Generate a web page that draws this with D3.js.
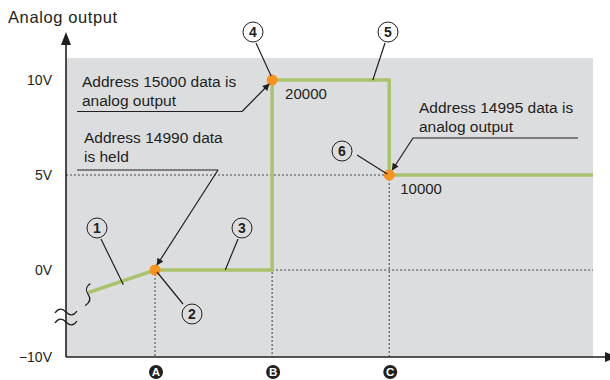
<!DOCTYPE html>
<html>
<head>
<meta charset="utf-8">
<script src="https://cdn.jsdelivr.net/npm/d3@7"></script>
<style>
  html, body { margin: 0; padding: 0; background: #fff; }
  svg { display: block; font-family: "Liberation Sans", Arial, sans-serif; }
</style>
</head>
<body>
<svg id="chart" width="610" height="380"></svg>
<script>
// ---- data ----
const markerLabels = ["A", "B", "C"];
const markerTimes = [0, 1, 2];
const outputTimes = [-0.57, 0, 1, 1, 2, 2, 3.74];
const outputVolts = [-2.6, 0, 0, 10, 10, 5, 5];
const pointTimes = [0, 1, 2];
const pointVolts = [0, 10, 5];
const voltTicks = [-10, 0, 5, 10];
const voltTickLabels = ["\u221210V", "0V", "5V", "10V"];
const valueLabels = ["20000", "10000"];
const calloutNumbers = ["1", "2", "3", "4", "5", "6"];
const noteLines = [
  ["Address 15000 data is", "analog output"],
  ["Address 14990 data", "is held"],
  ["Address 14995 data is", "analog output"]
];
const titleText = "Analog output";

// ---- scales ----
const svg = d3.select("#chart");
const x = d3.scaleLinear().domain([-0.76, 3.74]).range([66, 593]);
const y = d3.scaleLinear().domain([-10, 0, 10]).range([357, 270, 80]);
const yTop = 11.15;

const GREEN = "#a9c26c", ORANGE = "#f7931e", GRAY = "#dcdddf", INK = "#231f20";

// defs: arrowheads
const defs = svg.append("defs");
defs.append("marker").attr("id", "arr").attr("viewBox", "0 0 10 10")
  .attr("refX", 9).attr("refY", 5).attr("markerWidth", 9).attr("markerHeight", 7)
  .attr("markerUnits", "userSpaceOnUse").attr("orient", "auto")
  .append("path").attr("d", "M0,0 L10,5 L0,10 z").attr("fill", INK);

// background plot area
svg.append("rect")
  .attr("x", x(-0.76)).attr("y", y(yTop))
  .attr("width", x(3.74) - x(-0.76)).attr("height", y(-10) - y(yTop))
  .attr("fill", GRAY);

// dotted guides
const dot = { stroke: "#444", "stroke-width": 1, "stroke-dasharray": "2,2" };
function guide(x1, y1, x2, y2) {
  const l = svg.append("line").attr("x1", x1).attr("y1", y1).attr("x2", x2).attr("y2", y2);
  Object.entries(dot).forEach(([k, v]) => l.attr(k, v));
}
guide(x(-0.76), y(5), x(2), y(5));
guide(x(1), y(0), x(3.74), y(0));
markerTimes.forEach((t, i) => guide(x(t), y(pointVolts[i]), x(t), y(-10)));

// output line
const pts = outputTimes.map((t, i) => [x(t), y(outputVolts[i])]);
svg.append("path").attr("d", d3.line()(pts))
  .attr("fill", "none").attr("stroke", GREEN).attr("stroke-width", 3.5)
  .attr("stroke-linejoin", "miter");

// squiggle at start of line
const sx = x(outputTimes[0]), sy = y(outputVolts[0]);
svg.append("path")
  .attr("d", `M${sx+2},${sy-9} C${sx-4},${sy-5} ${sx-2},${sy-1} ${sx},${sy+2} C${sx+2},${sy+5} ${sx+3},${sy+9} ${sx-3},${sy+13}`)
  .attr("fill", "none").attr("stroke", INK).attr("stroke-width", 1.3);

// axes
svg.append("line").attr("x1", x(-0.76)).attr("y1", y(-10)).attr("x2", x(-0.76)).attr("y2", 44)
  .attr("stroke", INK).attr("stroke-width", 1.6);
svg.append("path").attr("d", `M${x(-0.76)},32 L${x(-0.76)+5},45 L${x(-0.76)-5},45 Z`).attr("fill", INK);
svg.append("line").attr("x1", x(-0.76)).attr("y1", y(-10)).attr("x2", 605).attr("y2", y(-10))
  .attr("stroke", INK).attr("stroke-width", 1.6);
svg.append("path").attr("d", `M618,${y(-10)} L605,${y(-10)-5} L605,${y(-10)+5} Z`).attr("fill", INK);

// axis break symbol
[312, 322].forEach(cy => {
  const cx = x(-0.76);
  svg.append("path")
    .attr("d", `M${cx-11},${cy+1} C${cx-7},${cy-5} ${cx-3},${cy-3} ${cx},${cy} C${cx+3},${cy+3} ${cx+7},${cy+5} ${cx+11},${cy-1}`)
    .attr("fill", "none").attr("stroke", INK).attr("stroke-width", 1.3);
});

// y tick labels via axis
const yAxis = d3.axisLeft(y).tickValues(voltTicks).tickSize(0).tickPadding(14)
  .tickFormat((d, i) => voltTickLabels[i]);
const gy = svg.append("g").attr("transform", `translate(${x(-0.76)},0)`).call(yAxis);
gy.select(".domain").remove();
gy.selectAll("text").attr("font-size", 14).attr("fill", INK)
  .attr("font-family", "'Liberation Sans', Arial, sans-serif");

// x markers A B C
markerTimes.forEach((t, i) => {
  const g = svg.append("g").attr("transform", `translate(${x(t)+1},372)`);
  g.append("circle").attr("r", 7).attr("fill", INK);
  g.append("text").text(markerLabels[i]).attr("text-anchor", "middle").attr("dy", 4)
    .attr("font-size", 11.5).attr("font-weight", "bold").attr("fill", "#fff");
});

// title
svg.append("text").text(titleText).attr("x", 8).attr("y", 23)
  .attr("font-size", 16.5).attr("fill", INK).attr("letter-spacing", 0.6);

// orange points
pointTimes.forEach((t, i) => {
  svg.append("circle").attr("cx", x(t)).attr("cy", y(pointVolts[i])).attr("r", 5.5).attr("fill", ORANGE);
});

// value labels
svg.append("text").text(valueLabels[0]).attr("x", x(1) + 13).attr("y", y(10) + 19)
  .attr("font-size", 15).attr("fill", INK);
svg.append("text").text(valueLabels[1]).attr("x", x(2) + 11).attr("y", y(5) + 19)
  .attr("font-size", 15).attr("fill", INK);

// notes with underline + arrow
function note(lines, tx, ty, ux1, ux2, uy, ax1, tipX, tipY) {
  lines.forEach((s, i) => {
    svg.append("text").text(s).attr("x", tx).attr("y", ty + i * 18.5)
      .attr("font-size", 15.5).attr("fill", INK);
  });
  svg.append("line").attr("x1", ux1).attr("y1", uy).attr("x2", ux2).attr("y2", uy)
    .attr("stroke", INK).attr("stroke-width", 1.2);
  svg.append("line").attr("x1", ax1).attr("y1", uy).attr("x2", tipX).attr("y2", tipY)
    .attr("stroke", INK).attr("stroke-width", 1.2).attr("marker-end", "url(#arr)");
}
note(noteLines[0], 82, 87, 77, 242, 111.5, 242, x(1) - 3, y(10) + 4);
note(noteLines[1], 84, 143, 77, 218, 170, 218, x(0) + 2, y(0) - 5);
note(noteLines[2], 419, 113, 413, 578, 138, 413, x(2) + 3, y(5) - 5);

// callout circles with leaders
const callouts = [
  { c: [97, 228], l: [[101, 239], [x(-0.27), y(-1.7)]] },
  { c: [192, 314], l: [[183, 304], [x(0) + 2, y(0) + 2]] },
  { c: [242, 228], l: [[238, 239], [x(0.6), y(0)]] },
  { c: [253, 32], l: [[256, 43], [x(1) - 1, y(10) - 4]] },
  { c: [388, 32], l: [[385, 43], [x(1.86), y(10)]] },
  { c: [342, 151], l: [[357, 155], [x(2) - 2, y(5) - 1]] }
];
callouts.forEach((d, i) => {
  svg.append("line").attr("x1", d.l[0][0]).attr("y1", d.l[0][1])
    .attr("x2", d.l[1][0]).attr("y2", d.l[1][1]).attr("stroke", INK).attr("stroke-width", 1.2);
  svg.append("circle").attr("cx", d.c[0]).attr("cy", d.c[1]).attr("r", 10)
    .attr("fill", "none").attr("stroke", INK).attr("stroke-width", 1);
  svg.append("text").text(calloutNumbers[i]).attr("x", d.c[0]).attr("y", d.c[1] + 5)
    .attr("text-anchor", "middle").attr("font-size", 14).attr("font-weight", "bold").attr("fill", INK);
});
</script>
</body>
</html>
